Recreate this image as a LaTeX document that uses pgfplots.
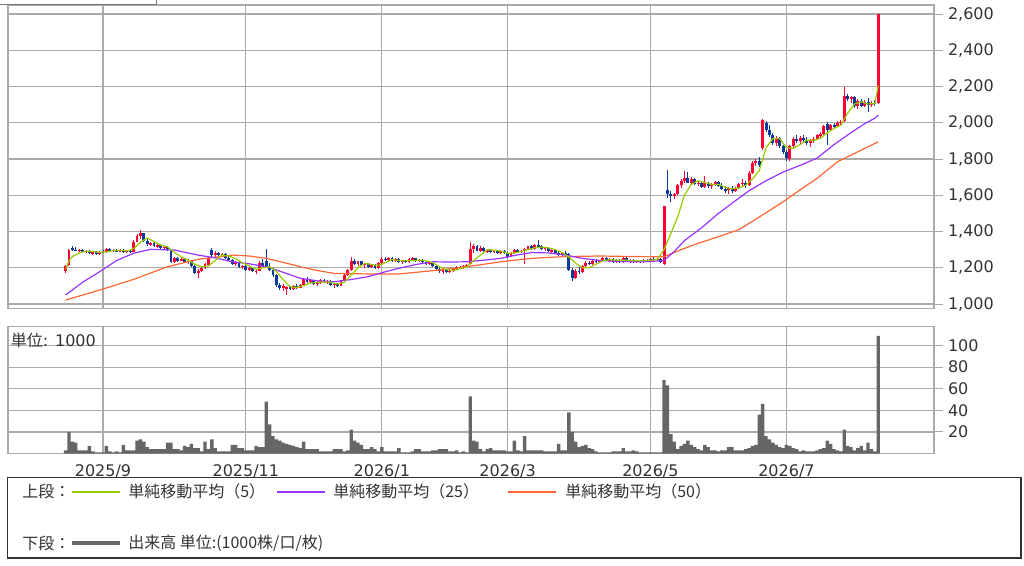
\documentclass[border=0pt]{standalone}
\usepackage{pgfplots}
\pgfplotsset{compat=1.18}
\usepackage{pgfplotstable}
\usepackage{fontspec}
\setmainfont{DejaVu Sans}
\newfontfamily\jp{Noto Sans CJK JP}
\definecolor{cred}{HTML}{FF0033}
\definecolor{cblue}{HTML}{0A3A9A}
\definecolor{maA}{HTML}{99CC00}
\definecolor{maB}{HTML}{9933FF}
\definecolor{maC}{HTML}{FF6633}
\definecolor{gridc}{HTML}{AAAAAA}
\definecolor{volc}{HTML}{666666}
\definecolor{txt}{HTML}{333333}

\pgfplotstableread{
d o h l c v
-11 1180 1215 1172 1212 3
-10 1215 1305 1210 1298 20
-9 1310 1318 1292 1296 11
-8 1300 1312 1290 1294 10
-7 1292 1305 1283 1300 3
-6 1298 1302 1285 1288 3
-5 1288 1298 1280 1292 3
-4 1290 1296 1276 1280 7
-3 1280 1292 1272 1286 2
-2 1285 1290 1270 1275 1
-1 1276 1292 1272 1288 1
0 1288 1300 1280 1285 1
1 1285 1310 1282 1305 7
2 1303 1308 1288 1292 2
3 1292 1305 1286 1300 1
4 1300 1306 1288 1290 2
5 1290 1302 1285 1298 1
6 1298 1302 1282 1285 8
7 1285 1300 1280 1295 3
8 1295 1298 1283 1288 3
9 1288 1355 1285 1345 3
10 1345 1385 1340 1375 12
11 1378 1408 1360 1390 13
12 1390 1392 1345 1350 11
13 1350 1360 1320 1330 6
14 1330 1342 1318 1335 4
15 1335 1340 1312 1318 4
16 1318 1332 1310 1325 4
17 1325 1330 1305 1310 4
18 1310 1322 1300 1315 4
19 1315 1318 1290 1298 10
20 1298 1300 1225 1232 10
21 1232 1262 1225 1255 4
22 1255 1262 1232 1240 4
23 1240 1258 1235 1250 3
24 1250 1255 1228 1232 7
25 1232 1248 1222 1240 6
26 1240 1245 1205 1210 9
27 1210 1222 1165 1172 5
28 1172 1195 1142 1185 5
29 1185 1205 1175 1198 2
30 1198 1225 1192 1220 11
31 1218 1260 1215 1255 4
32 1300 1310 1262 1270 13
33 1270 1290 1262 1282 5
34 1282 1288 1265 1270 2
35 1270 1282 1258 1275 2
36 1275 1280 1250 1255 2
37 1255 1265 1238 1245 2
38 1245 1250 1215 1222 8
39 1222 1238 1212 1230 8
40 1230 1235 1200 1205 5
41 1205 1218 1195 1210 5
42 1210 1215 1185 1190 3
43 1190 1205 1180 1198 3
44 1198 1202 1175 1180 3
45 1180 1195 1168 1185 7
46 1185 1235 1180 1228 6
47 1228 1250 1205 1212 6
48 1240 1302 1198 1205 48
49 1205 1225 1180 1190 27
50 1190 1200 1150 1160 16
51 1160 1168 1095 1105 13
52 1105 1118 1080 1090 12
53 1090 1108 1072 1100 10
54 1082 1098 1050 1092 9
55 1092 1100 1080 1085 8
56 1085 1105 1080 1100 7
57 1100 1108 1085 1090 6
58 1090 1110 1086 1105 5
59 1105 1145 1100 1138 11
60 1138 1148 1115 1120 4
61 1120 1140 1110 1130 4
62 1130 1135 1105 1110 4
63 1110 1125 1100 1118 4
64 1118 1138 1112 1132 2
65 1132 1138 1115 1120 2
66 1120 1135 1112 1128 2
67 1128 1132 1100 1105 2
68 1105 1118 1090 1112 4
69 1112 1118 1095 1100 4
70 1100 1135 1098 1130 4
71 1130 1165 1125 1160 2
72 1160 1195 1155 1190 3
73 1190 1262 1185 1235 22
74 1238 1250 1215 1222 12
75 1222 1240 1212 1235 10
76 1235 1240 1210 1215 8
77 1215 1228 1200 1222 4
78 1222 1228 1198 1205 4
79 1205 1220 1198 1215 6
80 1215 1220 1195 1200 4
81 1200 1232 1196 1228 2
82 1228 1258 1222 1250 6
83 1250 1262 1238 1245 2
84 1245 1260 1238 1255 2
85 1255 1258 1232 1238 2
86 1238 1252 1230 1248 2
87 1248 1252 1228 1232 5
88 1232 1245 1222 1240 1
89 1240 1245 1225 1230 1
90 1230 1252 1226 1248 1
91 1248 1258 1238 1252 2
92 1252 1255 1232 1238 4
93 1238 1250 1230 1245 4
94 1245 1248 1225 1230 2
95 1230 1240 1218 1222 2
96 1222 1235 1215 1228 2
97 1228 1232 1205 1210 3
98 1210 1215 1185 1192 3
99 1192 1205 1170 1180 4
100 1180 1195 1168 1188 4
101 1188 1192 1170 1175 4
102 1175 1192 1170 1185 2
103 1185 1198 1178 1195 2
104 1195 1210 1188 1205 3
105 1205 1212 1195 1200 1
106 1200 1215 1195 1210 2
107 1210 1222 1202 1215 1
108 1222 1340 1220 1305 53
109 1305 1330 1280 1320 12
110 1320 1328 1290 1295 11
111 1295 1318 1288 1310 4
112 1310 1315 1285 1290 2
113 1290 1305 1280 1300 4
114 1300 1305 1282 1288 5
115 1288 1300 1280 1295 3
116 1295 1300 1278 1282 3
117 1282 1298 1276 1292 3
118 1292 1298 1275 1280 3
119 1280 1285 1255 1262 2
120 1262 1285 1258 1280 2
121 1280 1305 1275 1300 12
122 1300 1305 1280 1288 3
123 1288 1300 1280 1295 2
124 1290 1310 1222 1305 16
125 1305 1322 1298 1318 3
126 1318 1325 1300 1305 3
127 1305 1330 1300 1325 3
128 1325 1352 1315 1320 3
129 1320 1328 1298 1305 3
130 1305 1315 1290 1310 2
131 1310 1315 1285 1290 2
132 1290 1305 1280 1298 2
133 1298 1302 1278 1282 2
134 1282 1292 1265 1270 9
135 1270 1288 1265 1282 3
136 1282 1290 1270 1275 3
137 1275 1280 1180 1190 38
138 1190 1200 1125 1145 20
139 1145 1195 1140 1185 11
140 1185 1205 1165 1175 6
141 1175 1215 1170 1210 7
142 1210 1235 1205 1228 8
143 1228 1240 1215 1222 5
144 1222 1245 1218 1240 4
145 1240 1248 1225 1230 2
146 1230 1245 1225 1240 1
147 1240 1262 1235 1255 1
148 1255 1260 1235 1240 1
149 1240 1252 1232 1248 1
150 1248 1252 1228 1232 2
151 1232 1248 1228 1242 2
152 1242 1250 1225 1230 2
153 1230 1262 1226 1252 5
154 1252 1258 1232 1238 2
155 1238 1250 1228 1245 2
156 1245 1250 1225 1230 3
157 1230 1245 1225 1240 2
158 1240 1245 1228 1232 1
159 1232 1248 1228 1245 1
160 1245 1250 1230 1235 1
161 1235 1255 1232 1250 1
162 1250 1262 1240 1245 1
163 1245 1255 1238 1250 1
164 1250 1255 1225 1232 1
165 1220 1540 1215 1540 68
166 1630 1740 1585 1605 63
167 1605 1625 1565 1600 18
168 1595 1612 1580 1605 11
169 1605 1660 1600 1655 4
170 1655 1690 1640 1680 7
171 1680 1735 1670 1695 9
172 1695 1730 1665 1670 12
173 1670 1700 1655 1690 8
174 1690 1695 1655 1662 6
175 1662 1680 1650 1670 4
176 1670 1678 1640 1648 3
177 1648 1705 1640 1665 8
178 1665 1675 1640 1650 6
179 1650 1668 1635 1660 3
180 1660 1680 1650 1675 3
181 1675 1680 1645 1652 2
182 1652 1665 1628 1635 3
183 1635 1650 1610 1628 3
184 1628 1645 1605 1640 6
185 1640 1650 1615 1625 6
186 1625 1648 1620 1640 3
187 1640 1665 1632 1660 3
188 1660 1690 1650 1670 3
189 1670 1680 1640 1655 4
190 1655 1735 1650 1725 5
191 1725 1790 1715 1780 7
192 1780 1800 1760 1790 8
193 1790 1810 1755 1765 36
194 1860 2020 1850 2015 46
195 2000 2010 1950 1960 16
196 1960 1985 1920 1930 13
197 1930 1945 1880 1890 10
198 1890 1925 1870 1915 8
199 1915 1920 1860 1870 6
200 1870 1880 1830 1840 5
201 1840 1850 1790 1805 8
202 1800 1880 1790 1870 7
203 1870 1920 1860 1910 5
204 1910 1935 1890 1900 4
205 1900 1925 1885 1915 2
206 1915 1930 1895 1905 3
207 1905 1920 1880 1890 2
208 1890 1910 1865 1900 2
209 1900 1920 1890 1912 2
210 1912 1940 1905 1930 3
211 1930 1950 1915 1940 4
212 1940 1990 1930 1980 5
213 1995 2005 1880 1960 12
214 1960 1995 1955 1985 9
215 1985 2000 1970 1980 4
216 1980 2010 1975 2000 3
217 2000 2015 1990 2005 2
218 2010 2195 2005 2150 22
219 2150 2160 2120 2130 7
220 2130 2150 2110 2140 6
221 2140 2145 2080 2090 3
222 2090 2130 2075 2120 5
223 2120 2130 2085 2095 7
224 2095 2125 2085 2115 3
225 2115 2135 2060 2100 10
226 2100 2120 2085 2110 4
227 2110 2125 2095 2105 2
228 2110 2600 2105 2600 109
}\data

\pgfplotsset{
  base/.style={
    scale only axis, anchor=south west,
    width=694.5pt,
    xmin=-27.94, xmax=244.4,
    axis line style={draw=gridc, line width=0.9pt},
    xtick={0,42,82,119,161,201},
    xtick style={draw=none},
    ytick pos=right, yticklabel pos=right,
    tick align=outside, major tick length=7pt,
    ytick style={draw=gridc, line width=0.75pt},
    grid=major, major grid style={draw=gridc, line width=0.9pt},
    tick label style={font=\fontsize{12}{14}\selectfont, text=txt},
    /pgf/number format/assume math mode=true,
    /pgf/number format/1000 sep={,},
  },
  candle/.style 2 args={only marks, mark=*, mark size=0pt,
    mark options={draw=none, fill=none}, forget plot,
    error bars/y dir=both, error bars/y explicit, error bars/error mark=none,
    error bars/error bar style={draw=#1, line width=#2}},
}

\begin{document}
\begin{tikzpicture}
\path[use as bounding box] (0,0) rectangle (768pt,423.75pt);

% upper panel
\begin{axis}[base,
  at={(6pt,192.5pt)}, height=227.5pt,
  ymin=976.3, ymax=2649.7,
  ytick={1000,1200,1400,1600,1800,2000,2200,2400,2600},
  xticklabels={},
]
% wicks
\addplot[candle={cred}{0.75pt}, restrict expr to domain={\thisrow{c}-\thisrow{o}}{0:5000}]
  table[x=d, y expr={(\thisrow{h}+\thisrow{l})/2}, y error expr={(\thisrow{h}-\thisrow{l})/2}] {\data};
\addplot[candle={cblue}{0.75pt}, restrict expr to domain={\thisrow{o}-\thisrow{c}}{0.5:5000}]
  table[x=d, y expr={(\thisrow{h}+\thisrow{l})/2}, y error expr={(\thisrow{h}-\thisrow{l})/2}] {\data};
% bodies
\addplot[candle={cred}{2.2pt}, restrict expr to domain={\thisrow{c}-\thisrow{o}}{0:5000}]
  table[x=d, y expr={(\thisrow{o}+\thisrow{c})/2}, y error expr={abs(\thisrow{c}-\thisrow{o})/2}] {\data};
\addplot[candle={cblue}{2.2pt}, restrict expr to domain={\thisrow{o}-\thisrow{c}}{0.5:5000}]
  table[x=d, y expr={(\thisrow{o}+\thisrow{c})/2}, y error expr={abs(\thisrow{c}-\thisrow{o})/2}] {\data};

% MA 50
\addplot[maC, line width=0.9pt, mark=none] coordinates {
(-11,1022) (-1,1077) (9,1136) (19,1206) (28,1247) (38,1270) (43,1265) (48,1252) (53,1230) (58,1206) (63,1185) (68,1169) (78,1166) (87,1166) (97,1184) (107,1206) (117,1233) (126,1252) (136,1262) (146,1265) (156,1262) (165,1261) (170,1300) (175,1335) (180,1365) (187,1410) (193,1480) (200,1564) (205,1630) (210,1693) (216,1785) (222,1840) (228,1895)};
% MA 25
\addplot[maB, line width=0.9pt, mark=none] coordinates {
(-11,1050) (-6,1120) (-1,1178) (4,1240) (9,1280) (14,1302) (21,1298) (28,1270) (33,1255) (38,1233) (43,1222) (48,1206) (53,1175) (58,1142) (63,1128) (68,1123) (73,1135) (78,1151) (83,1178) (87,1197) (92,1218) (97,1233) (102,1232) (107,1233) (112,1242) (117,1252) (121,1268) (126,1284) (131,1282) (136,1270) (141,1252) (146,1240) (151,1236) (156,1233) (161,1235) (165,1240) (168,1290) (171,1350) (176,1420) (181,1500) (186,1570) (190,1625) (195,1680) (200,1728) (205,1765) (210,1805) (215,1880) (220,1945) (224,1995) (227,2025) (228,2043)};
% MA 5
\addplot[maA, line width=0.9pt, mark=none] coordinates {
(-11,1190) (-10,1240) (-9,1262) (-8,1272) (-7,1282) (-5,1292) (-3,1290) (-1,1285) (1,1288) (3,1295) (5,1297) (7,1293) (9,1305) (11,1340) (13,1365) (15,1345) (17,1325) (19,1315) (21,1285) (23,1260) (25,1242) (27,1220) (29,1205) (31,1210) (33,1240) (35,1270) (37,1265) (39,1250) (41,1228) (43,1210) (45,1192) (47,1200) (49,1205) (51,1180) (53,1135) (55,1095) (57,1092) (59,1102) (61,1115) (63,1120) (65,1122) (67,1120) (69,1110) (71,1120) (73,1160) (75,1200) (77,1225) (79,1218) (81,1212) (83,1228) (85,1245) (87,1240) (89,1238) (91,1240) (93,1243) (95,1238) (97,1228) (99,1205) (101,1190) (103,1185) (105,1195) (107,1205) (109,1240) (111,1270) (113,1300) (115,1297) (117,1292) (119,1280) (121,1282) (123,1290) (125,1300) (127,1310) (129,1315) (131,1310) (133,1300) (135,1285) (137,1260) (139,1225) (141,1200) (143,1200) (145,1220) (147,1238) (149,1245) (151,1242) (153,1242) (155,1240) (157,1238) (159,1240) (161,1242) (163,1245) (165,1300) (167,1390) (169,1480) (171,1600) (173,1660) (175,1680) (177,1670) (179,1660) (181,1660) (183,1645) (185,1635) (187,1640) (189,1655) (191,1690) (193,1735) (195,1862) (197,1912) (199,1913) (201,1864) (203,1859) (205,1880) (207,1904) (209,1904) (211,1914) (213,1944) (215,1969) (217,1986) (219,2053) (221,2103) (223,2115) (225,2104) (227,2105) (228,2206)};
\end{axis}

% lower panel
\begin{axis}[base,
  at={(6pt,83.625pt)}, height=95.25pt,
  ymin=0, ymax=117.6,
  ytick={20,40,60,80,100},
  xticklabels={2025/9,2025/11,2026/1,2026/3,2026/5,2026/7},
  xticklabel style={yshift=2pt},
]
\addplot[ybar, bar width=1, bar shift=0pt, fill=volc, draw=none] table[x=d, y=v] {\data};
\end{axis}

% "unit" label in volume panel
\node[anchor=west, inner sep=0pt, text=txt, font=\fontsize{12}{14}\selectfont] at (8pt,168.75pt) {{\jp 単位}: 1000};

% top-left tab fragment
\draw[gridc!70!black, line width=0.75pt] (0pt,420.4pt) -- (117pt,420.4pt) -- (117pt,423.75pt);

% legend box
\draw[black!80, line width=1pt] (5.625pt,5.25pt) rectangle (765.75pt,65.625pt);
\begin{scope}[every node/.style={anchor=west, inner sep=0pt, text=txt, font=\jp\fontsize{12}{14}\selectfont}]
\node at (16.5pt,54.975pt) {上段：};
\draw[maA, line width=1.5pt] (54pt,54.975pt) -- (90pt,54.975pt);
\node at (96pt,54.975pt) {単純移動平均（5）};
\draw[maB, line width=1.5pt] (207.75pt,54.975pt) -- (243.75pt,54.975pt);
\node at (249.75pt,54.975pt) {単純移動平均（25）};
\draw[maC, line width=1.5pt] (381pt,54.975pt) -- (417pt,54.975pt);
\node at (423.75pt,54.975pt) {単純移動平均（50）};
\node at (16.5pt,16.275pt) {下段：};
\draw[volc, line width=3pt] (54pt,16.275pt) -- (90pt,16.275pt);
\node at (96pt,16.275pt) {出来高 単位:(1000株/口/枚)};
\end{scope}
\end{tikzpicture}
\end{document}
